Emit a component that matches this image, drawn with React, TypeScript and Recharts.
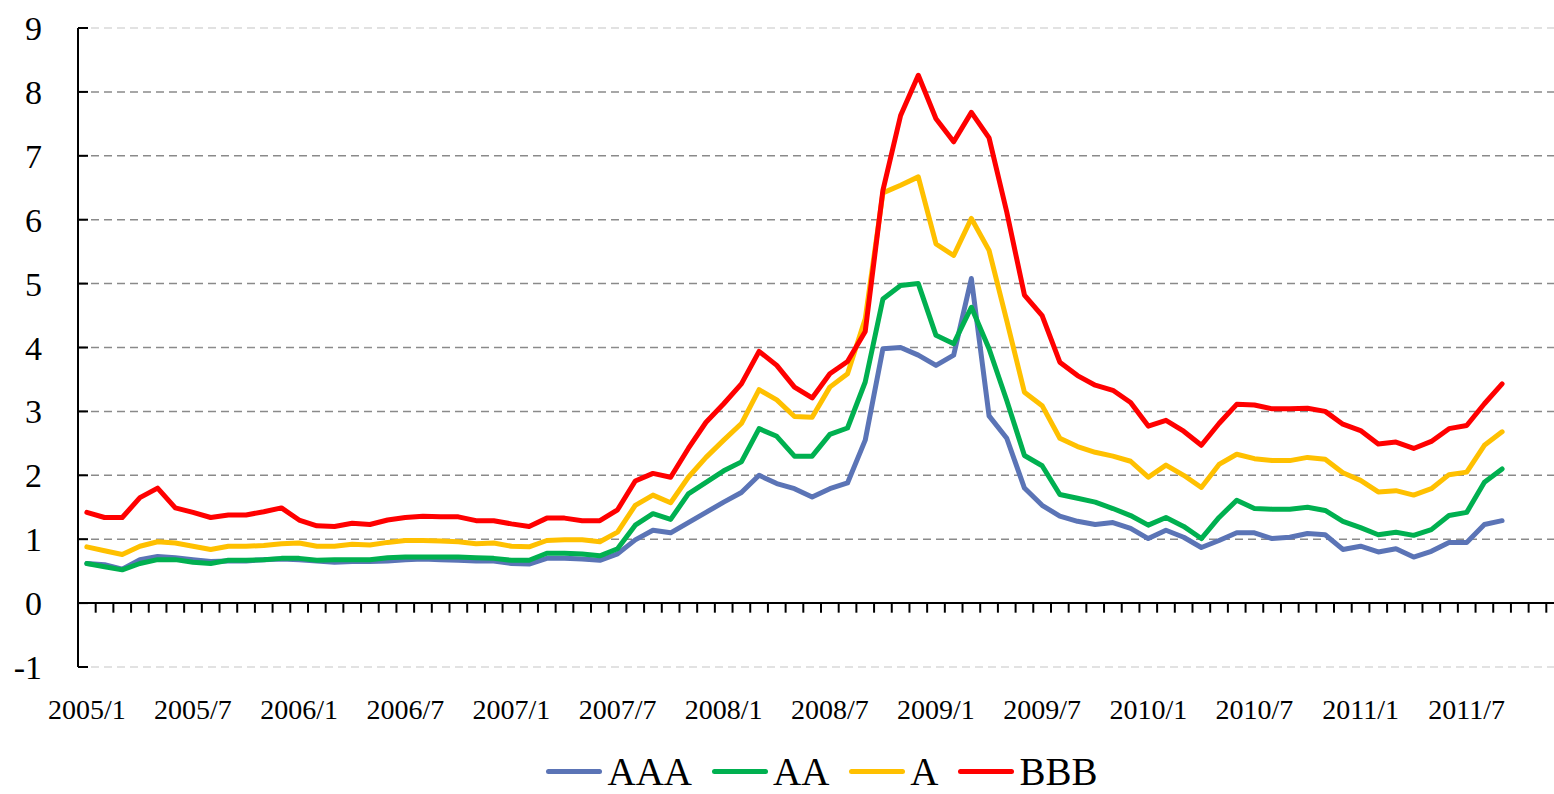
import React from 'react';
import {
  ComposedChart,
  Line,
  XAxis,
  YAxis,
  CartesianGrid,
  ReferenceLine,
  Legend,
} from 'recharts';

// monthly categories 2005/1 .. 2011/12 (data runs to 2011/9)
const years = ['2005', '2006', '2007', '2008', '2009', '2010', '2011'];
const monthNums = ['1', '2', '3', '4', '5', '6', '7', '8', '9', '10', '11', '12'];
const months = years.flatMap((y) => monthNums.map((m) => `${y}/${m}`));

const tickLabels = [
  '2005/1', '2005/7', '2006/1', '2006/7', '2007/1', '2007/7', '2008/1',
  '2008/7', '2009/1', '2009/7', '2010/1', '2010/7', '2011/1', '2011/7',
];
const yTicks = [-1, 0, 1, 2, 3, 4, 5, 6, 7, 8, 9];

const aaa = [
  0.62, 0.60, 0.53, 0.68, 0.73, 0.71, 0.68, 0.65, 0.66, 0.66,
  0.68, 0.69, 0.68, 0.66, 0.64, 0.65, 0.65, 0.66, 0.68, 0.69,
  0.68, 0.67, 0.66, 0.66, 0.62, 0.61, 0.70, 0.70, 0.69, 0.67,
  0.77, 0.99, 1.14, 1.10, 1.26, 1.42, 1.58, 1.73, 2.00, 1.87,
  1.79, 1.66, 1.79, 1.88, 2.55, 3.98, 4.00, 3.88, 3.72, 3.88,
  5.08, 2.93, 2.58, 1.80, 1.53, 1.36, 1.28, 1.23, 1.26, 1.17,
  1.01, 1.14, 1.03, 0.87, 0.98, 1.10, 1.10, 1.01, 1.03, 1.09,
  1.07, 0.84, 0.89, 0.80, 0.85, 0.72, 0.81, 0.95, 0.95, 1.23,
  1.29,
];
const aa = [
  0.62, 0.57, 0.52, 0.62, 0.68, 0.68, 0.64, 0.62, 0.67, 0.67,
  0.68, 0.70, 0.70, 0.67, 0.68, 0.68, 0.68, 0.71, 0.72, 0.72,
  0.72, 0.72, 0.71, 0.70, 0.67, 0.67, 0.78, 0.78, 0.77, 0.74,
  0.85, 1.22, 1.40, 1.31, 1.71, 1.89, 2.07, 2.21, 2.73, 2.61,
  2.30, 2.30, 2.64, 2.74, 3.46, 4.76, 4.97, 5.00, 4.19, 4.06,
  4.63, 3.98, 3.17, 2.31, 2.15, 1.70, 1.64, 1.58, 1.48, 1.37,
  1.22, 1.34, 1.20, 1.01, 1.34, 1.61, 1.48, 1.47, 1.47, 1.50,
  1.45, 1.28, 1.18, 1.07, 1.11, 1.06, 1.15, 1.37, 1.42, 1.89,
  2.10,
];
const a = [
  0.88, 0.82, 0.76, 0.89, 0.96, 0.94, 0.89, 0.84, 0.89, 0.89,
  0.90, 0.93, 0.94, 0.89, 0.89, 0.92, 0.91, 0.95, 0.98, 0.98,
  0.97, 0.96, 0.93, 0.94, 0.89, 0.88, 0.98, 0.99, 0.99, 0.96,
  1.11, 1.53, 1.69, 1.57, 1.97, 2.28, 2.55, 2.81, 3.34, 3.18,
  2.92, 2.91, 3.38, 3.59, 4.45, 6.42, 6.54, 6.67, 5.62, 5.44,
  6.02, 5.52, 4.42, 3.30, 3.09, 2.58, 2.45, 2.36, 2.30, 2.22,
  1.97, 2.16, 2.00, 1.81, 2.17, 2.33, 2.26, 2.23, 2.23, 2.28,
  2.25, 2.04, 1.92, 1.74, 1.76, 1.69, 1.79, 2.01, 2.05, 2.47,
  2.68,
];
const bbb = [
  1.42, 1.34, 1.34, 1.65, 1.80, 1.49, 1.42, 1.34, 1.38, 1.38,
  1.43, 1.49, 1.30, 1.21, 1.20, 1.25, 1.23, 1.30, 1.34, 1.36,
  1.35, 1.35, 1.29, 1.29, 1.24, 1.20, 1.33, 1.33, 1.29, 1.29,
  1.46, 1.91, 2.03, 1.97, 2.42, 2.83, 3.12, 3.43, 3.94, 3.72,
  3.38, 3.21, 3.59, 3.78, 4.25, 6.46, 7.63, 8.26, 7.58, 7.22,
  7.68, 7.28, 6.12, 4.82, 4.50, 3.77, 3.56, 3.41, 3.33, 3.14,
  2.77, 2.86, 2.69, 2.47, 2.81, 3.11, 3.10, 3.04, 3.04, 3.05,
  3.00, 2.80, 2.70, 2.49, 2.52, 2.42, 2.53, 2.73, 2.78, 3.12,
  3.43,
];

const series = [
  { key: 'AAA', color: '#5B74B6' },
  { key: 'AA', color: '#00B050' },
  { key: 'A', color: '#FFC000' },
  { key: 'BBB', color: '#FF0000' },
];

// x sits in the middle of each month band, like Excel's "between tick marks"
const data = aaa.map((v, i) => ({
  x: i + 0.5,
  month: months[i],
  AAA: v,
  AA: aa[i],
  A: a[i],
  BBB: bbb[i],
}));

const labelTicks = tickLabels.map((l) => months.indexOf(l) + 0.5);
const bandEdges = months.map((_, i) => i + 1);

const FONT = "'Liberation Serif', 'Times New Roman', serif";

// outer gridlines (9 and -1) are drawn much lighter in the original
const gridLine = (props: any) => {
  const { x1, x2, y1, y2, index } = props;
  const outer = index === 0 || index === yTicks.length - 1;
  return (
    <line
      key={`g-${index}`}
      x1={x1}
      x2={x2}
      y1={y1}
      y2={y2}
      stroke={outer ? '#d9d9d9' : '#8a8a8a'}
      strokeWidth={1.5}
      strokeDasharray="8 5"
    />
  );
};

const renderLegend = () => (
  <div
    style={{
      position: 'relative',
      top: -3,
      height: 40,
      display: 'flex',
      justifyContent: 'center',
      alignItems: 'center',
      paddingLeft: 100,
      fontFamily: FONT,
      fontSize: 39,
      lineHeight: 1,
      color: '#000',
    }}
  >
    {series.map((s) => (
      <span key={s.key} style={{ display: 'flex', alignItems: 'center', marginRight: 20 }}>
        <span
          style={{
            display: 'inline-block',
            width: 56,
            height: 5,
            borderRadius: 3,
            background: s.color,
            marginRight: 5,
          }}
        />
        <span style={{ lineHeight: 1 }}>{s.key}</span>
      </span>
    ))}
  </div>
);

export default function App() {
  return (
    <div style={{ position: 'absolute', left: 0, top: 0, width: 1554, height: 794, overflow: 'hidden', background: '#fff' }}>
      <ComposedChart
        width={1570}
        height={794}
        data={data}
        margin={{ top: 28, right: 6, bottom: 0, left: 0 }}
      >
        <CartesianGrid vertical={false} horizontal={gridLine} />
        <XAxis
          dataKey="x"
          type="number"
          domain={[0, months.length]}
          ticks={labelTicks}
          interval={0}
          tickFormatter={(v) => months[Math.floor(v)]}
          axisLine={false}
          tickLine={false}
          tickSize={0}
          tickMargin={32}
          height={87}
          tick={{ fill: '#000', fontSize: 28, fontFamily: FONT }}
        />
        <YAxis
          domain={[-1, 9]}
          ticks={yTicks}
          interval={0}
          width={78}
          axisLine={{ stroke: '#000', strokeWidth: 2 }}
          tickLine={{ stroke: '#000', strokeWidth: 2 }}
          tickSize={-10}
          tickMargin={46}
          tick={{ fill: '#000', fontSize: 34, fontFamily: FONT }}
        />
        <ReferenceLine y={0} stroke="#000" strokeWidth={2} />
        {bandEdges.map((k) => (
          <ReferenceLine
            key={k}
            segment={[{ x: k, y: 0 }, { x: k, y: -0.15 }]}
            stroke="#000"
            strokeWidth={2}
            ifOverflow="visible"
          />
        ))}
        {series.map((s) => (
          <Line
            key={s.key}
            type="linear"
            dataKey={s.key}
            stroke={s.color}
            strokeWidth={5}
            strokeLinejoin="round"
            strokeLinecap="round"
            dot={false}
            isAnimationActive={false}
          />
        ))}
        <Legend verticalAlign="bottom" align="center" content={renderLegend} />
      </ComposedChart>
    </div>
  );
}
